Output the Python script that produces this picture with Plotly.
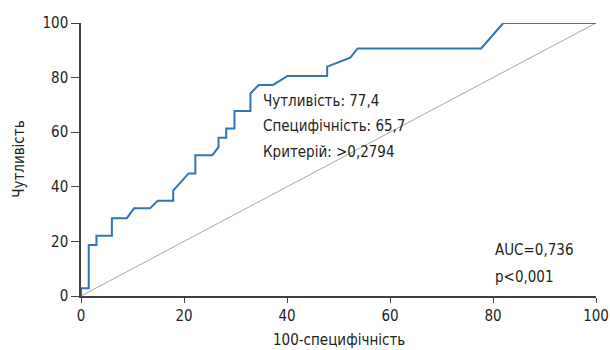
import plotly.graph_objects as go

fpr = [0, 0, 1.5, 1.5, 3.0, 3.0, 6.0, 6.0, 8.9, 10.3, 13.4, 14.9, 17.9, 17.9, 20.9, 22.2, 22.2,
       25.5, 26.7, 26.7, 28.2, 28.2, 29.8, 29.8, 32.9, 32.9, 34.5, 37.3, 40.1, 47.8, 47.8, 52.3,
       53.7, 77.7, 82.0, 100]
tpr = [0, 2.8, 2.8, 18.7, 18.7, 22.1, 22.1, 28.5, 28.5, 32.1, 32.1, 34.9, 34.9, 38.6, 44.9, 44.9, 51.6,
       51.6, 54.5, 58.0, 58.0, 61.4, 61.4, 67.8, 67.8, 74.2, 77.3, 77.3, 80.6, 80.6, 84.0, 87.3,
       90.7, 90.7, 100, 100]
ref_x = [0, 100]
ref_y = [0, 100]
tick_vals = [0, 20, 40, 60, 80, 100]
cut_text = ["Чутливість: 77,4", "Специфічність: 65,7", "Критерій: >0,2794"]
auc_text = ["AUC=0,736", "p<0,001"]
x_title = "100-специфічність"
y_title = "Чутливість"

FONT = "DejaVu Sans Condensed, Liberation Sans Narrow, sans-serif"
TXT = "#231f20"

fig = go.Figure()
fig.add_trace(go.Scatter(x=ref_x, y=ref_y, mode="lines",
                         line=dict(color="#a6a6a6", width=1), hoverinfo="skip"))
fig.add_trace(go.Scatter(x=fpr, y=tpr, mode="lines",
                         line=dict(color="#2f75b5", width=2)))

for i, t in enumerate(cut_text):
    fig.add_annotation(x=35.0, y=71.5 - i * 9.4, text=t, showarrow=False,
                       xanchor="left", yanchor="middle",
                       font=dict(family=FONT, size=15, color=TXT))
for i, t in enumerate(auc_text):
    fig.add_annotation(x=80.0, y=16.8 - i * 9.8, text=t, showarrow=False,
                       xanchor="left", yanchor="middle",
                       font=dict(family=FONT, size=15, color=TXT))

fig.add_annotation(xref="paper", yref="paper", x=0.5, y=-0.161, text=x_title,
                   showarrow=False, xanchor="center", yanchor="middle",
                   font=dict(family=FONT, size=15, color=TXT))
fig.add_annotation(xref="paper", yref="paper", x=-0.1217, y=0.5, text=y_title,
                   showarrow=False, xanchor="center", yanchor="middle", textangle=-90,
                   font=dict(family=FONT, size=15, color=TXT))

axis_common = dict(range=[0, 100], tickvals=tick_vals, showgrid=False, zeroline=False,
                   showline=True, linecolor="#404040", linewidth=1.5,
                   ticks="outside", tickcolor="#404040", tickwidth=1.2,
                   tickfont=dict(family=FONT, size=15, color=TXT),
                   fixedrange=True, automargin=False)

fig.update_layout(
    width=610, height=350,
    margin=dict(l=81, r=14, t=23, b=54),
    paper_bgcolor="white", plot_bgcolor="white",
    showlegend=False,
)
fig.update_xaxes(**axis_common, ticklen=5)
fig.update_yaxes(**axis_common, ticklen=8)

fig.write_html("out.html", config={"displayModeBar": False},
               post_script="document.body.style.margin='0';document.body.style.overflow='hidden';")
